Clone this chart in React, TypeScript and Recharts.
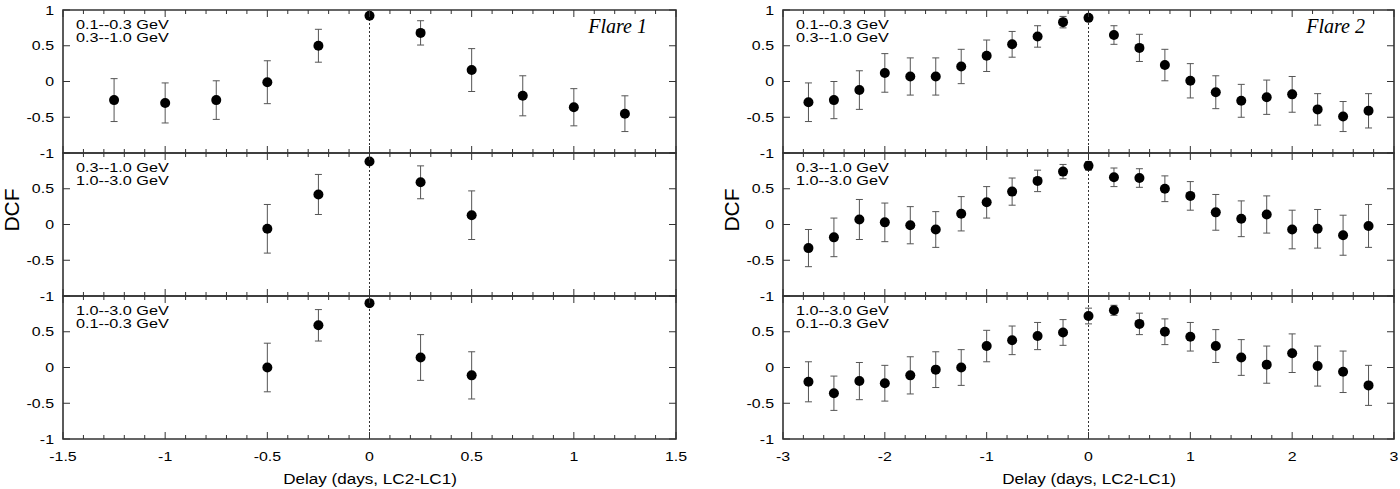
import React from "react"
import { ScatterChart, Scatter, XAxis, YAxis, ErrorBar, ReferenceLine, ReferenceArea } from "recharts"

// Flare 1 delays (days)
const f1Delays = [-1.25, -1, -0.75, -0.5, -0.25, 0, 0.25, 0.5, 0.75, 1, 1.25]
const f1ShortDelays = [-0.5, -0.25, 0, 0.25, 0.5]

// Flare 1 DCF values and errors
const f1LowMid = [-0.26, -0.3, -0.26, -0.01, 0.5, 0.92, 0.68, 0.16, -0.2, -0.36, -0.45]
const f1LowMidErr = [0.3, 0.28, 0.27, 0.3, 0.23, 0.02, 0.17, 0.3, 0.28, 0.26, 0.25]
const f1MidHigh = [-0.06, 0.42, 0.88, 0.59, 0.13]
const f1MidHighErr = [0.34, 0.28, 0.03, 0.23, 0.34]
const f1HighLow = [0.0, 0.59, 0.9, 0.14, -0.11]
const f1HighLowErr = [0.34, 0.22, 0.03, 0.32, 0.33]

// Flare 2 delays (days)
const f2Delays = [
  -2.75, -2.5, -2.25, -2, -1.75, -1.5, -1.25, -1, -0.75, -0.5, -0.25, 0,
  0.25, 0.5, 0.75, 1, 1.25, 1.5, 1.75, 2, 2.25, 2.5, 2.75,
]

// Flare 2 DCF values and errors
const f2LowMid = [
  -0.29, -0.26, -0.12, 0.12, 0.07, 0.07, 0.21, 0.36, 0.52, 0.63, 0.83, 0.89,
  0.65, 0.47, 0.23, 0.01, -0.15, -0.27, -0.22, -0.18, -0.39, -0.49, -0.41,
]
const f2LowMidErr = [
  0.27, 0.26, 0.27, 0.27, 0.26, 0.26, 0.24, 0.22, 0.18, 0.15, 0.08, 0.03,
  0.13, 0.19, 0.22, 0.24, 0.23, 0.23, 0.24, 0.25, 0.22, 0.21, 0.24,
]
const f2MidHigh = [
  -0.33, -0.18, 0.07, 0.03, -0.01, -0.07, 0.15, 0.31, 0.46, 0.61, 0.74, 0.82,
  0.66, 0.65, 0.5, 0.4, 0.17, 0.08, 0.14, -0.07, -0.06, -0.15, -0.02,
]
const f2MidHighErr = [
  0.26, 0.27, 0.28, 0.27, 0.26, 0.25, 0.24, 0.22, 0.19, 0.15, 0.1, 0.06,
  0.13, 0.13, 0.18, 0.2, 0.25, 0.25, 0.26, 0.27, 0.27, 0.28, 0.3,
]
const f2HighLow = [
  -0.2, -0.36, -0.19, -0.22, -0.11, -0.03, 0.0, 0.3, 0.38, 0.44, 0.49, 0.72,
  0.8, 0.61, 0.5, 0.43, 0.3, 0.14, 0.04, 0.2, 0.02, -0.06, -0.25,
]
const f2HighLowErr = [
  0.28, 0.24, 0.26, 0.25, 0.26, 0.25, 0.25, 0.22, 0.2, 0.19, 0.18, 0.11,
  0.07, 0.15, 0.18, 0.2, 0.23, 0.25, 0.26, 0.27, 0.28, 0.29, 0.28,
]

// axis ticks (major + minor)
const f1XTicks = [
  -1.5, -1.4, -1.3, -1.2, -1.1, -1, -0.9, -0.8, -0.7, -0.6, -0.5, -0.4, -0.3, -0.2, -0.1,
  0, 0.1, 0.2, 0.3, 0.4, 0.5, 0.6, 0.7, 0.8, 0.9, 1, 1.1, 1.2, 1.3, 1.4, 1.5,
]
const f2XTicks = [
  -3, -2.8, -2.6, -2.4, -2.2, -2, -1.8, -1.6, -1.4, -1.2, -1, -0.8, -0.6, -0.4, -0.2,
  0, 0.2, 0.4, 0.6, 0.8, 1, 1.2, 1.4, 1.6, 1.8, 2, 2.2, 2.4, 2.6, 2.8, 3,
]
const dcfTicks = [-1, -0.5, 0, 0.5, 1]

const bandLowMid = ["0.1--0.3 GeV", "0.3--1.0 GeV"]
const bandMidHigh = ["0.3--1.0 GeV", "1.0--3.0 GeV"]
const bandHighLow = ["1.0--3.0 GeV", "0.1--0.3 GeV"]

const YW = 60
const MT = 6
const PH = 143
const INK = "#333"
const FONT = "'Liberation Sans', Arial, sans-serif"

function rows(delays: number[], dcf: number[], err: number[]) {
  return delays.map((x, i) => ({ x, y: dcf[i], err: err[i] }))
}

function Dot(props: any) {
  if (props.cx == null || props.cy == null) return null
  return <circle cx={props.cx} cy={props.cy} r={5} fill="#000" />
}

type PanelProps = {
  left: number
  top: number
  width: number
  mr: number
  domain: [number, number]
  xTicks: number[]
  step: number
  data: { x: number; y: number; err: number }[]
  bands: string[]
  showTop?: boolean
  showX?: boolean
  flare?: string
}

function Panel({ left, top, width, mr, domain, xTicks, step, data, bands, showTop, showX, flare }: PanelProps) {
  const xh = showX ? 32 : 8
  const bottom = MT + PH
  const isMajor = (v: number) => Math.abs(v / step - Math.round(v / step)) < 1e-6

  const xTick = (p: any) => {
    const v = p.payload.value
    const x = p.x
    const len = isMajor(v) ? 7 : 4
    return (
      <g>
        <line x1={x} x2={x} y1={bottom} y2={bottom - len} stroke={INK} />
        <line x1={x} x2={x} y1={MT} y2={MT + len} stroke={INK} />
        {showX && isMajor(v) && (
          <text
            transform={`translate(${x},${bottom + 17}) scale(1.18,1)`}
            textAnchor="middle"
            dy="0.35em"
            fontSize={13.5}
            fontFamily={FONT}
            fill="#000"
          >
            {String(v)}
          </text>
        )}
      </g>
    )
  }

  const yTick = (p: any) => {
    const v = p.payload.value
    const y = p.y
    return (
      <g>
        <line x1={YW} x2={YW + 7} y1={y} y2={y} stroke={INK} />
        <line x1={YW + width} x2={YW + width - 7} y1={y} y2={y} stroke={INK} />
        {(showTop || v < 1) && (
          <text
            transform={`translate(${YW - 9},${y}) scale(1.18,1)`}
            textAnchor="end"
            dy="0.35em"
            fontSize={13.5}
            fontFamily={FONT}
            fill="#000"
          >
            {String(v)}
          </text>
        )}
      </g>
    )
  }

  return (
    <>
      <div style={{ position: "absolute", left: left - YW, top: top - MT }}>
        <ScatterChart width={YW + width + mr} height={MT + PH + xh} margin={{ top: MT, right: mr, bottom: 0, left: 0 }}>
          <XAxis
            type="number"
            dataKey="x"
            domain={domain}
            ticks={xTicks}
            interval={0}
            allowDataOverflow
            axisLine={false}
            tickLine={false}
            tickSize={0}
            tick={xTick}
            height={xh}
          />
          <YAxis
            type="number"
            dataKey="y"
            domain={[-1, 1]}
            ticks={dcfTicks}
            interval={0}
            allowDataOverflow
            axisLine={false}
            tickLine={false}
            tickSize={0}
            tick={yTick}
            width={YW}
          />
          <ReferenceArea
            x1={domain[0]}
            x2={domain[1]}
            y1={-1}
            y2={1}
            fill="none"
            stroke={INK}
            strokeWidth={1.6}
            ifOverflow="visible"
          />
          <ReferenceLine x={0} stroke={INK} strokeDasharray="2 2" strokeWidth={1} />
          <Scatter data={data} shape={Dot} isAnimationActive={false}>
            <ErrorBar dataKey="err" direction="y" width={3.5} stroke="#555" strokeWidth={1} />
          </Scatter>
        </ScatterChart>
      </div>
      {bands.map((b, i) => (
        <div
          key={b + i}
          style={{
            position: "absolute",
            left: left + 13,
            top: top + 15 + i * 13 - 8,
            height: 16,
            lineHeight: "16px",
            fontSize: 13.5,
            fontFamily: FONT,
            whiteSpace: "nowrap",
            transform: "scaleX(1.2)",
            transformOrigin: "left center",
          }}
        >
          {b}
        </div>
      ))}
      {flare && (
        <div
          style={{
            position: "absolute",
            left: left + width - 29 - 150,
            width: 150,
            top: top + 16 - 12,
            lineHeight: "24px",
            textAlign: "right",
            fontSize: 20,
            fontStyle: "italic",
            fontFamily: "'Liberation Serif', 'Times New Roman', serif",
          }}
        >
          {flare}
        </div>
      )}
    </>
  )
}

function Column({ left, width, mr, domain, xTicks, step, sets, flare }: any) {
  const tops = [10, 153, 296]
  const bands = [bandLowMid, bandMidHigh, bandHighLow]
  return (
    <>
      {sets.map((d: any, i: number) => (
        <Panel
          key={i}
          left={left}
          top={tops[i]}
          width={width}
          mr={mr}
          domain={domain}
          xTicks={xTicks}
          step={step}
          data={d}
          bands={bands[i]}
          showTop={i === 0}
          showX={i === 2}
          flare={i === 0 ? flare : undefined}
        />
      ))}
      <div
        style={{
          position: "absolute",
          left: left - 51 - 30,
          top: 210 - 12,
          width: 60,
          height: 24,
          lineHeight: "24px",
          textAlign: "center",
          fontSize: 21,
          fontFamily: FONT,
          transform: "rotate(-90deg)",
        }}
      >
        DCF
      </div>
      <div
        style={{
          position: "absolute",
          left: left + width / 2 - 150,
          width: 300,
          top: 479 - 10,
          lineHeight: "20px",
          textAlign: "center",
          fontSize: 14,
          fontFamily: FONT,
          transform: "scaleX(1.22)",
          whiteSpace: "nowrap",
        }}
      >
        Delay (days, LC2-LC1)
      </div>
    </>
  )
}

export default function App() {
  const flare1 = [
    rows(f1Delays, f1LowMid, f1LowMidErr),
    rows(f1ShortDelays, f1MidHigh, f1MidHighErr),
    rows(f1ShortDelays, f1HighLow, f1HighLowErr),
  ]
  const flare2 = [
    rows(f2Delays, f2LowMid, f2LowMidErr),
    rows(f2Delays, f2MidHigh, f2MidHighErr),
    rows(f2Delays, f2HighLow, f2HighLowErr),
  ]
  return (
    <div style={{ position: "absolute", left: 0, top: 0, width: 1400, height: 489, background: "#fff", fontFamily: FONT }}>
      <Column left={63} width={613} mr={24} domain={[-1.5, 1.5]} xTicks={f1XTicks} step={0.5} sets={flare1} flare="Flare 1" />
      <Column left={783} width={611} mr={6} domain={[-3, 3]} xTicks={f2XTicks} step={1} sets={flare2} flare="Flare 2" />
    </div>
  )
}
